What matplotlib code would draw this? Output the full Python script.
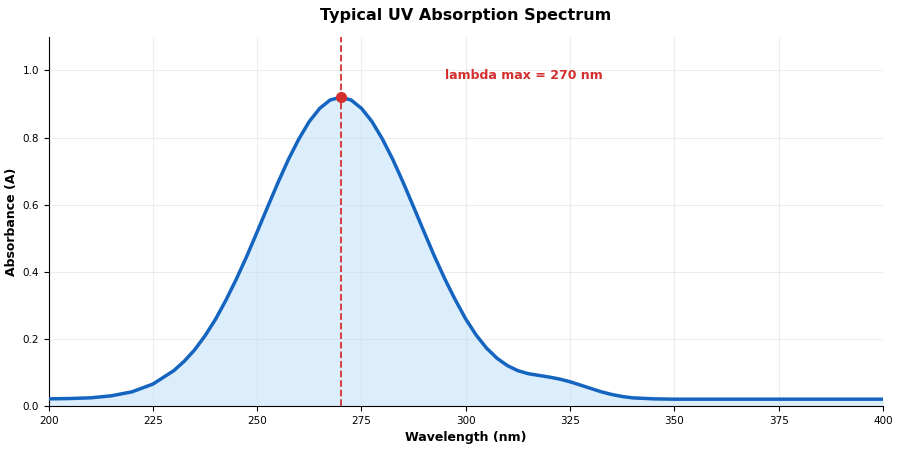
import matplotlib
matplotlib.use("Agg")
import matplotlib.pyplot as plt

# Spectrum
wavelength = [
    200, 205, 210, 215, 220, 225, 230, 232.5, 235, 237.5, 240, 242.5, 245,
    247.5, 250, 252.5, 255, 257.5, 260, 262.5, 265, 267.5, 270, 272.5, 275,
    277.5, 280, 282.5, 285, 287.5, 290, 292.5, 295, 297.5, 300, 302.5, 305,
    307.5, 310, 312.5, 315, 317.5, 320, 322.5, 325, 327.5, 330, 332.5, 335,
    337.5, 340, 345, 350, 360, 370, 380, 390, 400,
]
absorbance = [
    0.021, 0.022, 0.024, 0.030, 0.042, 0.065, 0.105, 0.133, 0.167, 0.209,
    0.258, 0.315, 0.378, 0.446, 0.519, 0.593, 0.666, 0.735, 0.796, 0.848,
    0.887, 0.912, 0.920, 0.912, 0.887, 0.848, 0.796, 0.735, 0.666, 0.593,
    0.519, 0.446, 0.378, 0.316, 0.259, 0.211, 0.172, 0.142, 0.120, 0.105,
    0.096, 0.091, 0.086, 0.080, 0.072, 0.062, 0.052, 0.042, 0.034, 0.028,
    0.024, 0.021, 0.020, 0.020, 0.020, 0.020, 0.020, 0.020,
]
lambda_max = 270
peak_abs = 0.92
x_ticks = [200, 225, 250, 275, 300, 325, 350, 375, 400]
y_ticks = [0.0, 0.2, 0.4, 0.6, 0.8, 1.0]

blue = "#1565C0"
red = "#D32F2F"

fig, ax = plt.subplots(figsize=(9, 4.5), dpi=100)
fig.subplots_adjust(left=0.054, right=0.981, top=0.918, bottom=0.098)

ax.fill_between(wavelength, absorbance, color="#BBDEFB", alpha=0.5, lw=0)
ax.plot(wavelength, absorbance, color=blue, lw=2.5, zorder=3,
        solid_joinstyle="round")
ax.axvline(lambda_max, color=red, ls="--", lw=1.3, zorder=4)
ax.plot([lambda_max], [peak_abs], "o", color=red, ms=7, zorder=5)
ax.text(295, 0.985, f"lambda max = {lambda_max} nm", color=red,
        fontsize=9, fontweight="bold", va="center")

ax.set_xlim(200, 400)
ax.set_ylim(0, 1.1)
ax.set_xticks(x_ticks)
ax.set_yticks(y_ticks)
ax.tick_params(labelsize=7.5)
ax.grid(True, color="#cccccc", alpha=0.35, lw=0.8)
ax.set_axisbelow(True)
for side in ("top", "right"):
    ax.spines[side].set_visible(False)

ax.set_xlabel("Wavelength (nm)", fontsize=9, fontweight="bold")
ax.set_ylabel("Absorbance (A)", fontsize=9, fontweight="bold", labelpad=3)
ax.set_title("Typical UV Absorption Spectrum", fontsize=11.5,
             fontweight="bold", pad=12)

fig.savefig("out.png", dpi=100)
